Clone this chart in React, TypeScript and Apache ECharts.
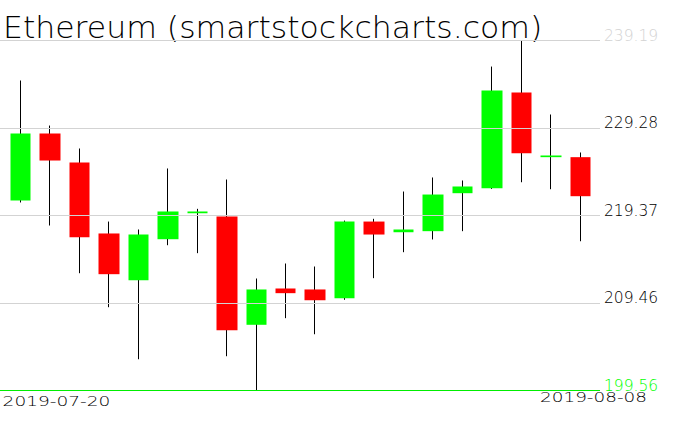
import React, { useEffect, useRef } from "react";
import * as echarts from "echarts";

const titleText = "Ethereum (smartstockcharts.com)";
const dates = [
  "2019-07-20", "2019-07-21", "2019-07-22", "2019-07-23", "2019-07-24",
  "2019-07-25", "2019-07-26", "2019-07-27", "2019-07-28", "2019-07-29",
  "2019-07-30", "2019-07-31", "2019-08-01", "2019-08-02", "2019-08-03",
  "2019-08-04", "2019-08-05", "2019-08-06", "2019-08-07", "2019-08-08",
];
const opens = [
  221.07, 228.66, 225.38, 217.34, 212.05, 216.69, 219.63, 219.26, 207.0, 211.11,
  211.0, 210.01, 218.69, 217.48, 217.6, 221.9, 222.47, 233.3, 225.98, 225.98,
];
const closes = [
  228.66, 225.6, 216.92, 212.73, 217.22, 219.83, 219.83, 206.39, 211.0, 210.58,
  209.78, 218.69, 217.22, 217.79, 221.75, 222.66, 233.53, 226.43, 226.17, 221.56,
];
const lows = [
  220.85, 218.24, 212.84, 208.99, 203.1, 216.01, 215.11, 203.44, 199.56, 207.75,
  205.93, 209.83, 212.28, 215.22, 216.66, 217.6, 222.38, 223.14, 222.35, 216.46,
];
const highs = [
  234.66, 229.56, 226.96, 218.69, 217.79, 224.7, 220.13, 223.45, 212.24, 213.94,
  213.6, 218.8, 219.0, 222.09, 223.68, 223.34, 236.24, 239.19, 230.81, 226.51,
];
const tickValues = [199.56, 209.46, 219.37, 229.28, 239.19];
const tickLabels = ["199.56", "209.46", "219.37", "229.28", "239.19"];
const tickColors = ["#00ff00", "#000000", "#000000", "#000000", "#d3d3d3"];
const lineColors = ["#00ee00", "#d3d3d3", "#d3d3d3", "#d3d3d3", "#d3d3d3"];

export default function App() {
  const ref = useRef<HTMLDivElement>(null);
  useEffect(() => {
    if (!ref.current) return;
    const chart = echarts.init(ref.current, null, { renderer: "svg" });
    const wickData = dates.map((_, i) => [i, opens[i], closes[i], lows[i], highs[i]]);
    const bodyData = dates.map((_, i) => [
      i,
      opens[i],
      closes[i],
      Math.min(opens[i], closes[i]),
      Math.max(opens[i], closes[i]),
    ]);
    const font = "DejaVu Sans";
    const weight = 200;
    chart.setOption({
      animation: false,
      grid: { left: 0, right: 76, top: 40.5, bottom: 40.5 },
      xAxis: { type: "value", min: -0.696, max: 19.664, show: false },
      yAxis: {
        type: "value",
        min: tickValues[0],
        max: tickValues[tickValues.length - 1],
        show: false,
        splitLine: { show: false },
      },
      graphic: [
        {
          type: "text",
          x: 3,
          y: 12,
          scaleX: 1.05,
          style: { text: titleText, fontFamily: font, fontWeight: weight, fontSize: 30, fill: "#000", verticalAlign: "top", align: "left" },
        },
        {
          type: "text",
          x: 2.6,
          y: 393.7,
          scaleX: 1.28,
          style: { text: dates[0], fontFamily: font, fontWeight: weight, fontSize: 14.5, fill: "#000", verticalAlign: "top", align: "left" },
        },
        {
          type: "text",
          x: 647,
          y: 389.7,
          scaleX: 1.27,
          style: { text: dates[dates.length - 1], fontFamily: font, fontWeight: weight, fontSize: 14.5, fill: "#000", verticalAlign: "top", align: "right" },
        },
      ],
      series: [
        {
          type: "candlestick",
          data: wickData,
          barWidth: 1,
          itemStyle: { color: "#000", color0: "#000", borderColor: "#000", borderColor0: "#000", borderWidth: 1 },
          silent: true,
        },
        {
          type: "candlestick",
          data: bodyData,
          barWidth: 21,
          itemStyle: { color: "#00ff00", color0: "#ff0000", borderColor: "#00ff00", borderColor0: "#ff0000", borderWidth: 0 },
          silent: true,
          markLine: {
            silent: true,
            symbol: ["none", "none"],
            animation: false,
            lineStyle: { type: "solid", width: 1, color: "#d3d3d3" },
            label: {
              show: true,
              position: "end",
              distance: 4,
              fontFamily: font,
              fontWeight: weight,
              fontSize: 15.5,
              verticalAlign: "bottom",
              lineHeight: 10,
            },
            data: tickValues.map((v, i) => ({
              yAxis: v,
              lineStyle: { color: lineColors[i], width: 1, type: "solid" },
              label: { formatter: tickLabels[i], color: tickColors[i] },
            })),
          },
        },
      ],
    });
    return () => chart.dispose();
  }, []);
  return <div ref={ref} style={{ width: 676, height: 431, position: "absolute", left: 0, top: 0 }} />;
}
